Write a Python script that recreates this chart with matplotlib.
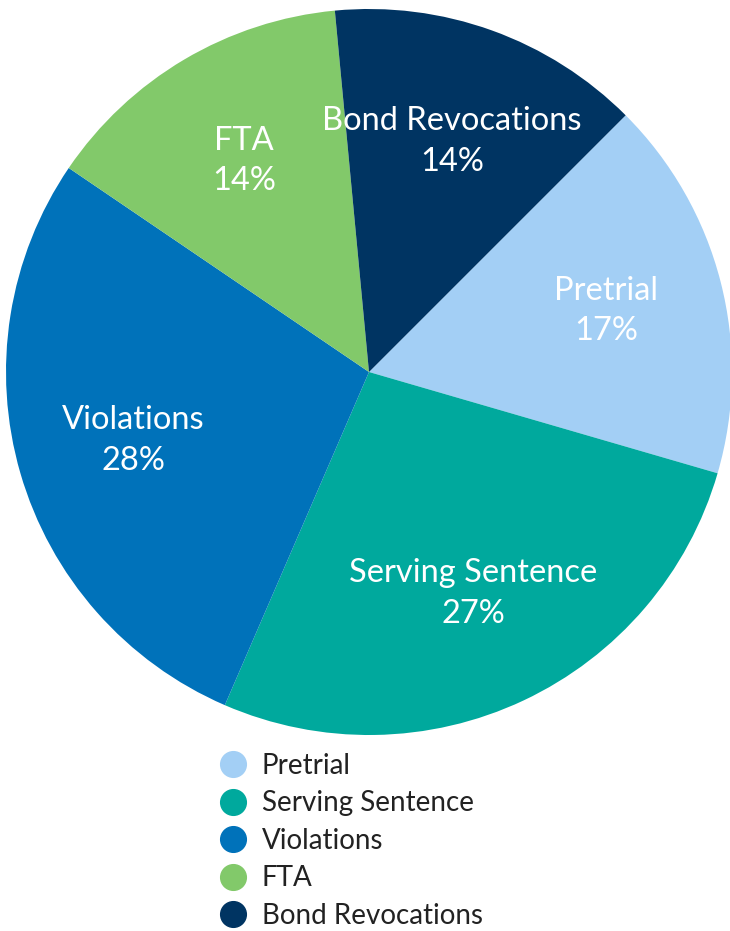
import matplotlib.pyplot as plt
from matplotlib.lines import Line2D
import numpy as np

# ------------Данные--------------------------------------------
labels = ['Pretrial', 'Serving Sentence', 'Violations', 'FTA', 'Bond Revocations']
shares = [17, 27, 28, 14, 14]
colors = ['#A3CFF5', '#00A99D', '#0072BA', '#82C96A', '#003462']

plt.rcParams['font.family'] = ['Lato', 'DejaVu Sans']

W, H = 730, 931
fig = plt.figure(figsize=(W / 100, H / 100), dpi=100)
ax = fig.add_axes([6 / W, (H - 735) / H, 726 / W, 726 / H])

wedges, _ = ax.pie(shares, colors=colors, startangle=45, counterclock=False,
                   radius=1, wedgeprops=dict(linewidth=0))
ax.set_xlim(-1, 1)
ax.set_ylim(-1, 1)
ax.set_aspect('auto')
ax.axis('off')

# подписи внутри секторов
for w, name, val in zip(wedges, labels, shares):
    mid = np.deg2rad((w.theta1 + w.theta2) / 2)
    r = 0.675
    ax.text(r * np.cos(mid), r * np.sin(mid), f'{name}\n{val}%',
            ha='center', va='center', color='white', fontsize=23.5,
            linespacing=1.45)

# легенда
handles = [Line2D([], [], marker='o', linestyle='none', markersize=18.5,
                  markerfacecolor=c, markeredgecolor=c) for c in colors]
fig.legend(handles, labels, loc='upper left', bbox_to_anchor=(205 / W, 1 - 742 / H),
           frameon=False, fontsize=20,
           handletextpad=0.45, labelspacing=0.41,
           labelcolor='#222222', borderaxespad=0, handlelength=1.2)

fig.savefig('out.png', dpi=100)
